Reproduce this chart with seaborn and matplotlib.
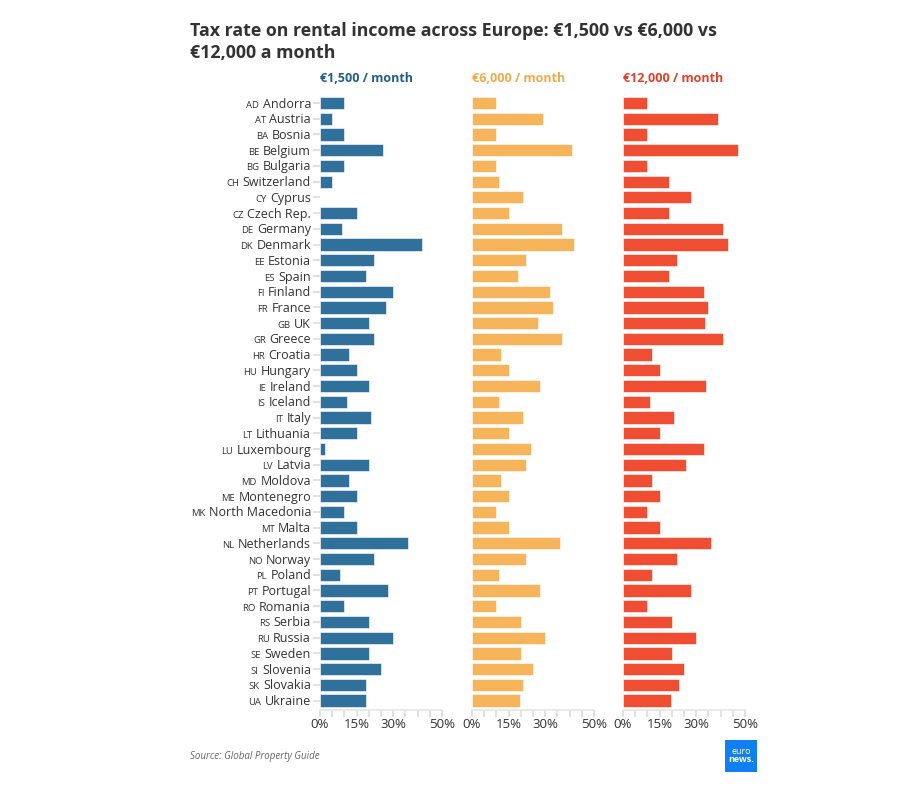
import matplotlib
matplotlib.use("Agg")
import matplotlib.pyplot as plt
import seaborn as sns
import pandas as pd
from matplotlib.patches import Rectangle

codes = ["AD", "AT", "BA", "BE", "BG", "CH", "CY", "CZ", "DE", "DK", "EE", "ES", "FI",
         "FR", "GB", "GR", "HR", "HU", "IE", "IS", "IT", "LT", "LU", "LV", "MD", "ME",
         "MK", "MT", "NL", "NO", "PL", "PT", "RO", "RS", "RU", "SE", "SI", "SK", "UA"]
countries = ["Andorra", "Austria", "Bosnia", "Belgium", "Bulgaria", "Switzerland", "Cyprus",
             "Czech Rep.", "Germany", "Denmark", "Estonia", "Spain", "Finland", "France", "UK",
             "Greece", "Croatia", "Hungary", "Ireland", "Iceland", "Italy", "Lithuania",
             "Luxembourg", "Latvia", "Moldova", "Montenegro", "North Macedonia", "Malta",
             "Netherlands", "Norway", "Poland", "Portugal", "Romania", "Serbia", "Russia",
             "Sweden", "Slovenia", "Slovakia", "Ukraine"]
rate_1500 = [10, 5, 10, 26, 10, 5, 0, 15, 9, 42, 22, 19, 30, 27, 20, 22, 12, 15, 20, 11,
             21, 15, 2, 20, 12, 15, 10, 15, 36, 22, 8, 28, 10, 20, 30, 20, 25, 19, 19]
rate_6000 = [10, 29, 10, 41, 10, 11, 21, 15, 37, 42, 22, 19, 32, 33, 27, 37, 12, 15, 28, 11,
             21, 15, 24, 22, 12, 15, 10, 15, 36, 22, 11, 28, 10, 20, 30, 20, 25, 21, 19.5]
rate_12000 = [10, 39, 10, 47, 10, 19, 28, 19, 41, 43, 22, 19, 33, 35, 33.5, 41, 12, 15, 34, 11,
              21, 15, 33, 26, 12, 15, 10, 15, 36, 22, 12, 28, 10, 20, 30, 20, 25, 23, 19.5]
panel_titles = ["€1,500 / month", "€6,000 / month", "€12,000 / month"]
tick_values = [0, 5, 10, 15, 20, 25, 30, 35, 40, 45, 50]
tick_labels = ["0%", "", "", "15%", "", "", "30%", "", "", "", "50%"]

df = pd.DataFrame({"code": codes, "country": countries,
                   "r1500": rate_1500, "r6000": rate_6000, "r12000": rate_12000})

sns.set_theme(style="white")
plt.rcParams["font.family"] = ["Open Sans", "DejaVu Sans"]

W, H = 902, 802
fig = plt.figure(figsize=(W / 100, H / 100), dpi=100)

bar_colors = ["#30719b", "#f7b55b", "#f04e33"]
head_colors = ["#1f5f8b", "#f5a948", "#e3402a"]
lefts = [320, 472, 623]
ax_w = 122
top_px, bot_px = 92, 710

axes = []
for i, col in enumerate(["r1500", "r6000", "r12000"]):
    ax = fig.add_axes([lefts[i] / W, 1 - bot_px / H, ax_w / W, (bot_px - top_px) / H])
    sns.barplot(data=df, x=col, y="country", color=bar_colors[i], saturation=1,
                width=0.78, edgecolor="white", linewidth=0.4, ax=ax)
    ax.set_xlim(0, 50)
    ax.set_ylim(len(countries) - 0.4, -0.7)
    ax.set_xlabel("")
    ax.set_ylabel("")
    ax.set_xticks(tick_values)
    ax.set_xticklabels(tick_labels, fontsize=9.5, color="#333333")
    ax.set_yticklabels([])
    sns.despine(ax=ax, left=True, top=True, right=True)
    ax.spines["bottom"].set_color("#e6e6e6")
    ax.tick_params(axis="x", length=5, color="#dddddd", pad=1, bottom=True)
    if i == 0:
        ax.tick_params(axis="y", length=5, color="#dddddd", left=True)
    else:
        ax.tick_params(axis="y", length=0)
    fig.text(lefts[i] / W, 1 - 78 / H, panel_titles[i], fontsize=9, fontweight="bold",
             color=head_colors[i], ha="left", va="center")
    axes.append(ax)

# country names + small code labels
ax1 = axes[0]
name_texts = []
for k, name in enumerate(countries):
    t = ax1.text(-9 / ax_w, k + 0.29, name, transform=ax1.get_yaxis_transform(),
                 ha="right", va="baseline", fontsize=9, color="#333333")
    name_texts.append(t)
fig.canvas.draw()
renderer = fig.canvas.get_renderer()
inv = ax1.transAxes.inverted()
for k, t in enumerate(name_texts):
    bb = t.get_window_extent(renderer)
    xa = inv.transform((bb.x0 - 3.5, 0))[0]
    ax1.text(xa, k + 0.29, codes[k], transform=ax1.get_yaxis_transform(),
             ha="right", va="baseline", fontsize=6.8, color="#333333")

fig.text(190 / W, 1 - 42 / H, "Tax rate on rental income across Europe: €1,500 vs €6,000 vs\n€12,000 a month",
         fontsize=12.8, fontweight="bold", color="#333333", ha="left", va="center", linespacing=1.25)
fig.text(190 / W, 1 - 757 / H, "Source: Global Property Guide", fontsize=7,
         style="italic", color="#666666", ha="left", va="center")

# euronews logo
fig.patches.append(Rectangle((725 / W, 1 - 772 / H), 32 / W, 32 / H, transform=fig.transFigure,
                             facecolor="#0f7ff2", edgecolor="none"))
fig.text(741 / W, 1 - 751 / H, "euro", fontsize=6.5, color="white",
         ha="center", va="center")
fig.text(741 / W, 1 - 760 / H, "news.", fontsize=6.5, color="white", fontweight="bold",
         ha="center", va="center")

fig.savefig("out.png", dpi=100)
